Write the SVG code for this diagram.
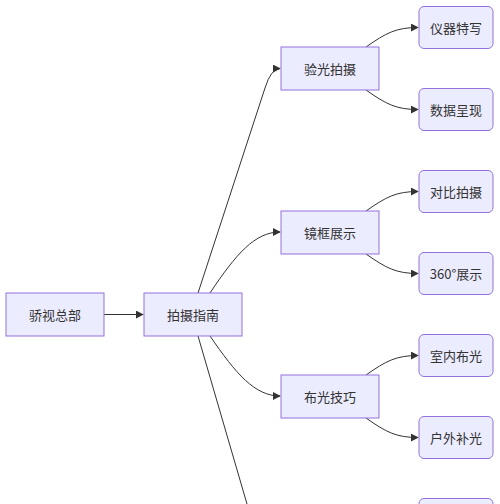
<svg xmlns="http://www.w3.org/2000/svg" width="500" height="504" viewBox="0 0 500 504">
<defs>
<style>
.n rect{fill:#ECECFF;stroke:#9370DB;stroke-width:1}
.n text{font-family:"Noto Sans CJK SC","Liberation Sans",sans-serif;font-size:13px;fill:#333;text-anchor:middle;dominant-baseline:central}
.e path{fill:none;stroke:#333;stroke-width:1}
</style>
<marker id="arr" viewBox="0 0 10 10" refX="9" refY="5" markerWidth="8" markerHeight="8" orient="auto" markerUnits="userSpaceOnUse">
<path d="M0,0 L10,5 L0,10 z" fill="#333"/>
</marker>
</defs>
<rect width="500" height="504" fill="#fff"/>
<g id="edges" class="e">
<path d="M104,314.5 L143,314.5" marker-end="url(#arr)"/>
<path d="M198,293 L265,88 Q271,68.5 280,68.5" marker-end="url(#arr)"/>
<path d="M210,293 C236,254 255,232 280,232" marker-end="url(#arr)"/>
<path d="M210,336 C236,374 255,396 280,396" marker-end="url(#arr)"/>
<path d="M198,336 L247,504"/>
<path d="M366,47 C386,33 396,27.5 418,27.5" marker-end="url(#arr)"/>
<path d="M366,90 C386,104 396,109.5 418,109.5" marker-end="url(#arr)"/>
<path d="M366,211 C386,197 396,191.5 418,191.5" marker-end="url(#arr)"/>
<path d="M366,254 C386,268 396,273.5 418,273.5" marker-end="url(#arr)"/>
<path d="M366,375 C386,361 396,355.5 418,355.5" marker-end="url(#arr)"/>
<path d="M366,418 C386,432 396,437.5 418,437.5" marker-end="url(#arr)"/>
</g>
<g id="n-hq" class="n"><rect x="6" y="293" width="98" height="43"/><text x="55" y="314.5">骄视总部</text></g>
<g id="n-guide" class="n"><rect x="144" y="293" width="98" height="43"/><text x="193" y="314.5">拍摄指南</text></g>
<g id="n-eye" class="n"><rect x="281" y="47" width="98" height="43"/><text x="330" y="68.5">验光拍摄</text></g>
<g id="n-frame" class="n"><rect x="281" y="211" width="98" height="43"/><text x="330" y="232.5">镜框展示</text></g>
<g id="n-light" class="n"><rect x="281" y="375" width="98" height="43"/><text x="330" y="396.5">布光技巧</text></g>
<g id="n-inst" class="n"><rect x="419" y="6.5" width="74" height="42" rx="5"/><text x="456" y="27.5">仪器特写</text></g>
<g id="n-data" class="n"><rect x="419" y="88.5" width="74" height="42" rx="5"/><text x="456" y="109.5">数据呈现</text></g>
<g id="n-cmp" class="n"><rect x="419" y="170.5" width="74" height="42" rx="5"/><text x="456" y="191.5">对比拍摄</text></g>
<g id="n-360" class="n"><rect x="419" y="252.5" width="74" height="42" rx="5"/><text x="456" y="273.5">360°展示</text></g>
<g id="n-in" class="n"><rect x="419" y="334.5" width="74" height="42" rx="5"/><text x="456" y="355.5">室内布光</text></g>
<g id="n-out" class="n"><rect x="419" y="416.5" width="74" height="42" rx="5"/><text x="456" y="437.5">户外补光</text></g>
<g id="n-cut" class="n"><rect x="419" y="498.5" width="74" height="42" rx="5"/></g>
</svg>
